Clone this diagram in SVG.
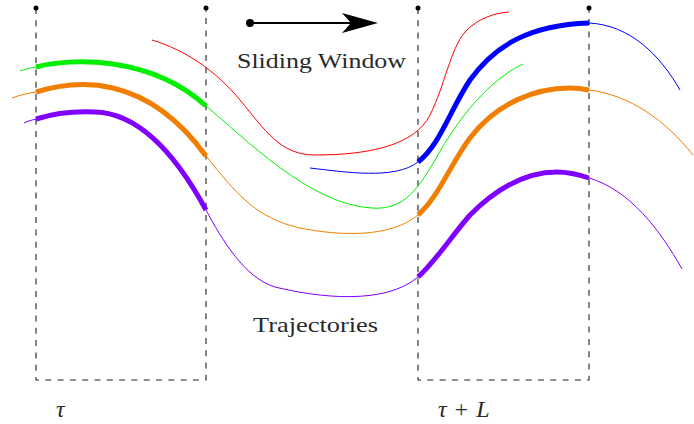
<svg xmlns="http://www.w3.org/2000/svg" width="694" height="424" viewBox="0 0 694 424">
<style>
.dash{stroke:#222;stroke-width:1.1;stroke-dasharray:6,6.3;fill:none}
.thin{fill:none;stroke-width:1}
.thick{fill:none;stroke-width:5}
.g{stroke:#00ee00}.r{stroke:#ff0000}.b{stroke:#0000ff}.o{stroke:#f07f00}.p{stroke:#8000ff}
.lbl{font-family:"Liberation Serif",serif;font-size:22px;fill:#2a2a2a}
.math{font-family:"Liberation Serif",serif;font-size:24px;fill:#2a2a2a}
</style>
<rect width="694" height="424" fill="#fff"/>
<g id="window1">
<path class="dash" d="M36,8 V380 H206 V8"/>
<circle cx="36" cy="8" r="2.5" fill="#000"/>
<circle cx="206" cy="8" r="2.5" fill="#000"/>
</g>
<g id="window2">
<path class="dash" d="M418,8 V380 H589 V8"/>
<circle cx="418" cy="8" r="2.5" fill="#000"/>
<circle cx="589" cy="8" r="2.5" fill="#000"/>
</g>
<g id="connectors">
<g id="arrow">
<line x1="250" y1="23" x2="352" y2="23" stroke="#000" stroke-width="2"/>
<circle cx="250" cy="23" r="4" fill="#000"/>
<path d="M378,23 L342,13 L351,23 L342,33 Z" fill="#000"/>
</g>
</g>
<g id="trajectory-red">
<path class="thin r" d="M152,40 C185,50 215,70 240,100 C265,130 280,155 315,155 C370,155 415,145 430,115 C445,85 450,50 465,32 C478,18 495,13 509,12"/>
</g>
<g id="trajectory-green">
<path class="thin g" d="M20,71 C25,69 30,68 36,67"/>
<path class="thick g" d="M36,67 C70,58 150,55 206,106"/>
<path class="thin g" d="M206,106 C245,138 310,205 372,208 C400,210 415,195 435,160 C460,115 490,80 523,64"/>
</g>
<g id="trajectory-blue">
<path class="thin b" d="M310,168 C345,172 395,180 418,162"/>
<path class="thick b" d="M418,162 C440,145 450,110 470,80 C495,45 530,25 589,23"/>
<path class="thin b" d="M589,23 C630,25 660,55 680,90"/>
</g>
<g id="trajectory-orange">
<path class="thin o" d="M12,98 C20,95 28,93 36,92"/>
<path class="thick o" d="M36,92 C75,80 145,72 206,156"/>
<path class="thin o" d="M206,156 C235,192 255,218 300,228 C340,236 390,238 418,215"/>
<path class="thick o" d="M418,215 C438,198 450,165 470,138 C497,103 535,88 570,88 C578,88 584,89 589,90"/>
<path class="thin o" d="M589,90 C630,95 665,120 693,155"/>
</g>
<g id="trajectory-purple">
<path class="thin p" d="M24,123 C28,121 32,120 36,119"/>
<path class="thick p" d="M36,119 C55,113 75,111 95,112 C130,113 168,140 206,210"/>
<path class="thin p" d="M206,210 C222,240 245,278 275,287 C320,298 385,305 418,277"/>
<path class="thick p" d="M418,277 C435,262 450,238 470,215 C500,185 530,172 557,172 C570,172 580,175 589,178"/>
<path class="thin p" d="M589,178 C630,190 660,230 682,269"/>
</g>
<g id="labels">
<text class="lbl" x="237" y="68" textLength="169" lengthAdjust="spacingAndGlyphs">Sliding Window</text>
<text class="lbl" x="253" y="332" textLength="125" lengthAdjust="spacingAndGlyphs">Trajectories</text>
<text class="math" x="56" y="417" font-style="italic">τ</text>
<text class="math" x="438" y="417"><tspan font-style="italic">τ</tspan><tspan dx="8">+</tspan><tspan dx="8" font-style="italic">L</tspan></text>
</g>
</svg>
